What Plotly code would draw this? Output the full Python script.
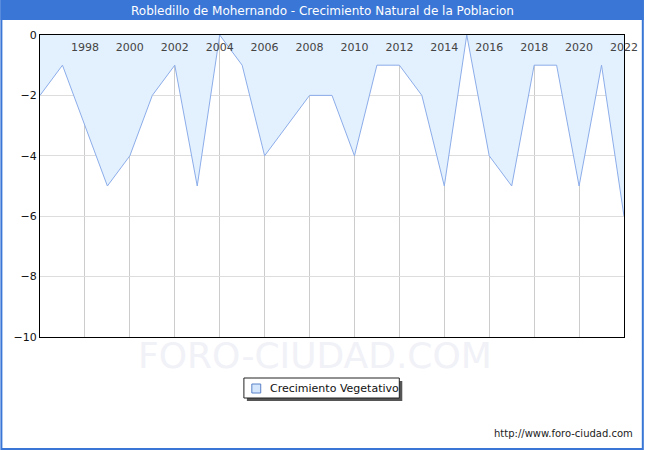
import plotly.graph_objects as go

# datos
years = list(range(1996, 2023))
crecimiento = [-2, -1, -3, -5, -4, -2, -1, -5, 0, -1, -4, -3, -2, -2,
               -4, -1, -1, -2, -5, 0, -4, -5, -1, -1, -5, -1, -6]
xticks = list(range(1998, 2023, 2))
serie = "Crecimiento Vegetativo"

W, H = 650, 450
L, R, T, B = 40, 20, 35, 113
pw, ph = W - L - R, H - T - B


def px_x(x):
    return (x - L) / pw


def px_y(y):
    return (H - B - y) / ph


blue = "#3a76d6"

fig = go.Figure()
fig.add_trace(go.Scatter(
    x=years, y=crecimiento, mode="lines", fill="tozeroy",
    line=dict(color="#8cadea", width=1), fillcolor="#e3f0fd",
    showlegend=False, hoverinfo="x+y",
))


def rect(x0, y0, x1, y1, **kw):
    return dict(type="rect", xref="paper", yref="paper",
                x0=px_x(x0), x1=px_x(x1), y0=px_y(y1), y1=px_y(y0), **kw)


shapes = [
    # title bar
    rect(0, 0, W, 20, fillcolor=blue, line=dict(width=0), layer="below"),
    # outer border
    rect(1, 1, W - 1, H - 1, line=dict(color=blue, width=2)),
    # legend: shadow, box, symbol
    rect(249, 381, 406, 401, fillcolor="#555555", line=dict(width=0)),
    rect(246, 378, 403, 398, fillcolor="white", line=dict(color="#222222", width=1)),
    rect(254, 384, 263, 393, fillcolor="#d3e6fb", line=dict(color="#5b82c8", width=1)),
]

annotations = [
    dict(text="Robledillo de Mohernando - Crecimiento Natural de la Poblacion",
         xref="paper", yref="paper", x=px_x(325), y=px_y(11), showarrow=False,
         font=dict(color="white", size=12, family="DejaVu Sans"),
         xanchor="center", yanchor="middle"),
    dict(text="FORO-CIUDAD.COM", xref="paper", yref="paper", x=px_x(318), y=px_y(355),
         showarrow=False, font=dict(color="#f1f1f8", size=36, family="DejaVu Sans"),
         xanchor="center", yanchor="middle"),
    dict(text=serie, xref="paper", yref="paper", x=px_x(270), y=px_y(388.5),
         showarrow=False, font=dict(color="#111111", size=11, family="DejaVu Sans"),
         xanchor="left", yanchor="middle"),
    dict(text="http://www.foro-ciudad.com", xref="paper", yref="paper",
         x=px_x(641), y=px_y(433), showarrow=False,
         font=dict(color="#222222", size=10, family="DejaVu Sans"),
         xanchor="right", yanchor="middle"),
]

fig.update_layout(
    width=W, height=H,
    margin=dict(l=L, r=R, t=T, b=B),
    paper_bgcolor="white", plot_bgcolor="white",
    font=dict(family="DejaVu Sans", size=11, color="#111111"),
    shapes=shapes, annotations=annotations,
    showlegend=False,
)
fig.update_xaxes(
    range=[1996, 2022], side="top", ticklabelposition="inside",
    ticklabeloverflow="allow", ticklabelstandoff=8,
    tickvals=xticks, showgrid=True, gridcolor="#cccccc", gridwidth=1,
    showline=True, linecolor="black", linewidth=1, mirror=True,
    ticks="", zeroline=False,
)
fig.update_yaxes(
    range=[-10, 0], dtick=2, showgrid=True, gridcolor="#dddddd",
    ticklabeloverflow="allow",
    showline=True, linecolor="black", linewidth=1, mirror=True,
    ticks="", zeroline=False,
)

fig.write_html(
    "out.html",
    config={"displayModeBar": False},
    post_script="document.body.style.margin='0';",
)
